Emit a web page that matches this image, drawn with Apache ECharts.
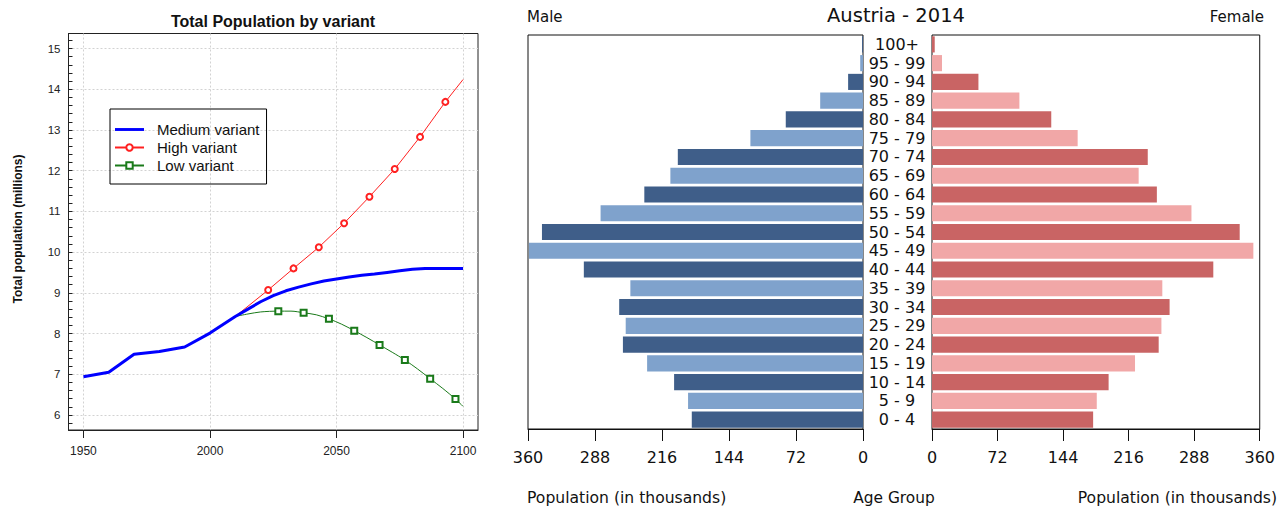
<!DOCTYPE html>
<html>
<head>
<meta charset="utf-8">
<script src="https://cdn.jsdelivr.net/npm/echarts@6/dist/echarts.min.js"></script>
<style>
html,body{margin:0;padding:0;background:#fff;}
#c{width:1278px;height:507px;}
</style>
</head>
<body>
<div id="c"></div>
<script>
// ---------- Left chart data ----------
const medYears = [1950,1960,1970,1980,1990,2000,2010,2015,2020,2025,2030,2035,2040,2045,2050,2055,2060,2065,2070,2075,2080,2085,2090,2095,2100];
const medVals  = [6.94,7.05,7.49,7.56,7.67,8.01,8.42,8.60,8.78,8.93,9.05,9.14,9.22,9.29,9.34,9.39,9.43,9.46,9.50,9.54,9.58,9.60,9.60,9.60,9.60];
const highYears = [2010,2023,2033,2043,2053,2063,2073,2083,2093,2100];
const highVals  = [8.42,9.07,9.60,10.12,10.71,11.36,12.04,12.83,13.69,14.24];
const highMarkers = [2023,2033,2043,2053,2063,2073,2083,2093];
const lowYears = [2010,2015,2020,2027,2032,2037,2042,2047,2052,2057,2062,2067,2072,2077,2082,2087,2092,2097,2100];
const lowVals  = [8.42,8.48,8.53,8.55,8.55,8.51,8.46,8.36,8.23,8.07,7.90,7.72,7.54,7.35,7.13,6.89,6.65,6.39,6.21];
const lowMarkers = [2027,2037,2047,2057,2067,2077,2087,2097];
const xTickLabels = [1950,2000,2050,2100];
const yTickLabels = [6,7,8,9,10,11,12,13,14,15];

// ---------- Pyramid data ----------
const ageGroups = ['0 - 4','5 - 9','10 - 14','15 - 19','20 - 24','25 - 29','30 - 34','35 - 39','40 - 44','45 - 49','50 - 54','55 - 59','60 - 64','65 - 69','70 - 74','75 - 79','80 - 84','85 - 89','90 - 94','95 - 99','100+'];
const maleVals   = [184,188,203,232,258,255,262,250,300,359,345,282,235,207,199,121,83,46,16,3,1];
const femaleVals = [177,181,194,223,249,252,261,253,309,353,338,285,247,227,237,160,131,96,51,11,3];
const popTicks = [0,72,144,216,288,360];

// minor ticks on left y axis (every 0.2)
const yMinorTicks = [];
for (let i = 29; i <= 76; i++) yMinorTicks.push(+(i * 0.2).toFixed(1));

const FL = '"Liberation Sans", Arial, sans-serif';
const FD = '"DejaVu Sans", sans-serif';

function withMarkers(years, vals, markers, sym) {
  return years.map((y, i) => ({ value: [y, vals[i]], symbol: markers.indexOf(y) >= 0 ? sym : 'none' }));
}

const chart = echarts.init(document.getElementById('c'), null, { renderer: 'svg' });

const option = {
  animation: false,
  backgroundColor: '#fff',
  grid: [
    { left: 68.5, top: 33.5, width: 409.5, height: 396.5, show: true, borderColor: '#222', borderWidth: 1, backgroundColor: 'transparent' },
    { left: 528, top: 35, width: 335, height: 394, show: true, borderColor: '#111', borderWidth: 1, backgroundColor: 'transparent' },
    { left: 932, top: 35, width: 334, height: 394, show: true, borderColor: '#111', borderWidth: 1, backgroundColor: 'transparent' }
  ],
  xAxis: [
    { type: 'value', gridIndex: 0, min: 1944.1, max: 2105.9,
      axisLine: { show: true, lineStyle: { color: '#222' } },
      axisTick: { show: true, inside: false, length: 8, customValues: xTickLabels, lineStyle: { color: '#222' } },
      axisLabel: { customValues: xTickLabels, margin: 15, fontFamily: FL, fontSize: 12, color: '#222', formatter: v => String(v) },
      splitLine: { show: true, lineStyle: { color: '#d2d2d2', type: [2, 2] } } },
    { type: 'value', gridIndex: 1, min: 0, max: 360, interval: 72, inverse: true,
      axisLine: { show: true, lineStyle: { color: '#111' } },
      axisTick: { show: true, length: 12, lineStyle: { color: '#111' } },
      axisLabel: { margin: 20, fontFamily: FD, fontSize: 16, color: '#111' },
      splitLine: { show: false } },
    { type: 'value', gridIndex: 2, min: 0, max: 360, interval: 72,
      axisLine: { show: true, lineStyle: { color: '#111' } },
      axisTick: { show: true, length: 12, lineStyle: { color: '#111' } },
      axisLabel: { margin: 20, fontFamily: FD, fontSize: 16, color: '#111' },
      splitLine: { show: false } }
  ],
  yAxis: [
    { type: 'value', gridIndex: 0, min: 5.63, max: 15.37,
      axisLine: { show: true, lineStyle: { color: '#222' } },
      axisTick: { show: true, inside: true, length: 4, customValues: yMinorTicks, lineStyle: { color: '#222' } },
      axisLabel: { customValues: yTickLabels, margin: 8, fontFamily: FL, fontSize: 11.5, color: '#222' },
      splitLine: { show: false } },
    { type: 'value', gridIndex: 0, min: 5.63, max: 15.37, position: 'left',
      axisLine: { show: false }, axisTick: { show: false, customValues: yTickLabels },
      axisLabel: { show: false, customValues: yTickLabels },
      splitLine: { show: true, lineStyle: { color: '#d2d2d2', type: [2, 2] } } },
    { type: 'category', gridIndex: 1, data: ageGroups, position: 'right',
      axisLine: { show: false }, axisTick: { show: false },
      axisLabel: { interval: 0, align: 'center', margin: 34, fontFamily: FD, fontSize: 16, color: '#111' } },
    { type: 'category', gridIndex: 2, data: ageGroups, position: 'left',
      axisLine: { show: false }, axisTick: { show: false }, axisLabel: { show: false } }
  ],
  legend: {
    orient: 'vertical', left: 110, top: 109,
    padding: [13, 7, 11, 4], itemGap: 3, itemWidth: 29, itemHeight: 8,
    borderColor: '#000', borderWidth: 1,
    textStyle: { fontFamily: FL, fontSize: 15, color: '#111', padding: [0, 0, 0, 8] },
    data: [
      { name: 'Medium variant', icon: 'path://M0,0 L30,0 L30,3 L0,3 Z' },
      { name: 'High variant' },
      { name: 'Low variant' }
    ]
  },
  series: [
    { name: 'Medium variant', type: 'line', xAxisIndex: 0, yAxisIndex: 0,
      data: medYears.map((y, i) => [y, medVals[i]]), symbol: 'none',
      lineStyle: { color: '#0000ff', width: 3 }, itemStyle: { color: '#0000ff' }, z: 3 },
    { name: 'High variant', type: 'line', xAxisIndex: 0, yAxisIndex: 0,
      data: withMarkers(highYears, highVals, highMarkers, 'emptyCircle'),
      symbol: 'emptyCircle', symbolSize: 6, showSymbol: true,
      lineStyle: { color: '#ff2020', width: 1 }, itemStyle: { color: '#ff2020', borderWidth: 1 }, z: 2 },
    { name: 'Low variant', type: 'line', xAxisIndex: 0, yAxisIndex: 0,
      data: withMarkers(lowYears, lowVals, lowMarkers, 'emptyRect'),
      symbol: 'emptyRect', symbolSize: 6, showSymbol: true, smooth: 0.3,
      lineStyle: { color: '#1a7a1a', width: 1 }, itemStyle: { color: '#1a7a1a', borderWidth: 1 }, z: 2 },
    { name: 'Male', type: 'bar', xAxisIndex: 1, yAxisIndex: 2, data: maleVals, barCategoryGap: '14%',
      itemStyle: { color: p => p.dataIndex % 2 === 0 ? '#3f5e89' : '#7fa2cc' } },
    { name: 'Female', type: 'bar', xAxisIndex: 2, yAxisIndex: 3, data: femaleVals, barCategoryGap: '14%',
      itemStyle: { color: p => p.dataIndex % 2 === 0 ? '#c96464' : '#f1a7a7' } }
  ],
  graphic: [
    { type: 'text', x: 273, y: 21, style: { text: 'Total Population by variant', font: 'bold 16px ' + FL, fill: '#111', textAlign: 'center', textVerticalAlign: 'middle' } },
    { type: 'text', x: 18, y: 229, rotation: Math.PI / 2, style: { text: 'Total population (millions)', font: 'bold 12px ' + FL, fill: '#111', textAlign: 'center', textVerticalAlign: 'middle' } },
    { type: 'text', x: 896, y: 15, style: { text: 'Austria - 2014', font: '19.5px ' + FD, fill: '#111', textAlign: 'center', textVerticalAlign: 'middle' } },
    { type: 'text', x: 527, y: 17, style: { text: 'Male', font: '15px ' + FD, fill: '#111', textAlign: 'left', textVerticalAlign: 'middle' } },
    { type: 'text', x: 1264, y: 17, style: { text: 'Female', font: '15px ' + FD, fill: '#111', textAlign: 'right', textVerticalAlign: 'middle' } },
    { type: 'text', x: 527, y: 498, style: { text: 'Population (in thousands)', font: '15.6px ' + FD, fill: '#111', textAlign: 'left', textVerticalAlign: 'middle' } },
    { type: 'text', x: 894, y: 498, style: { text: 'Age Group', font: '15.4px ' + FD, fill: '#111', textAlign: 'center', textVerticalAlign: 'middle' } },
    { type: 'text', x: 1277, y: 498, style: { text: 'Population (in thousands)', font: '15.6px ' + FD, fill: '#111', textAlign: 'right', textVerticalAlign: 'middle' } }
  ]
};
chart.setOption(option);
</script>
</body>
</html>
